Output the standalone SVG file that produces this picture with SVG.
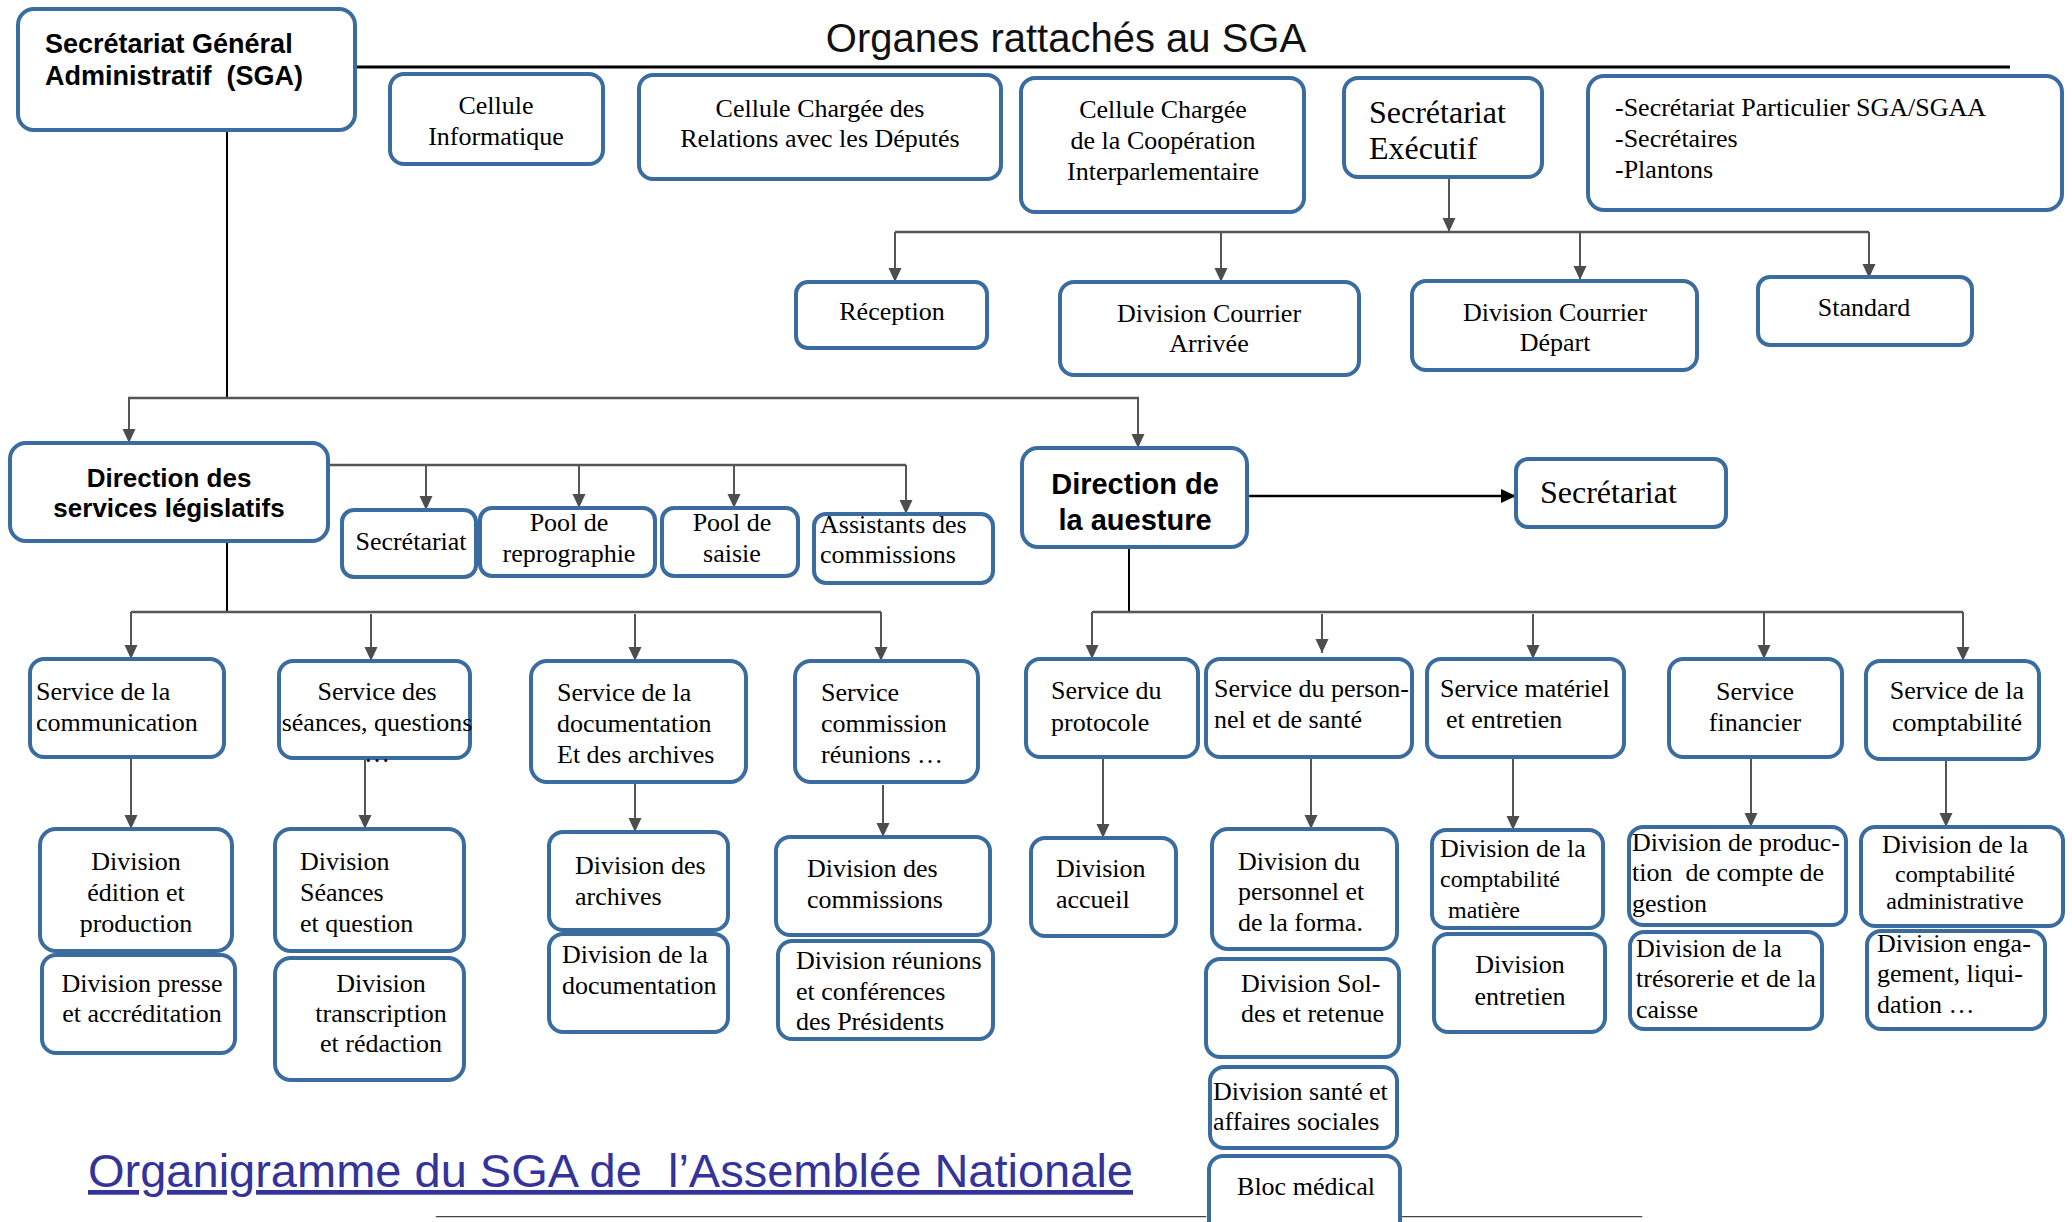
<svg xmlns="http://www.w3.org/2000/svg" width="2072" height="1222" viewBox="0 0 2072 1222">
<style>
.box{fill:#fff;stroke:#3B6C9F;stroke-width:4}
.t{font-family:"Liberation Serif","Times New Roman",serif;font-size:26px;fill:#000}
.s24{font-size:24px}
.s32{font-size:32px}
.b{font-family:"Liberation Sans",Arial,sans-serif;font-weight:bold;fill:#000}
.m{text-anchor:middle}
.ln{fill:none;stroke:#555;stroke-width:2.5}
.lk{fill:none;stroke:#000;stroke-width:2}
.ar{fill:none;stroke:#555;stroke-width:2;marker-end:url(#ah)}
.us{font-family:"Liberation Serif",serif;font-size:20px;fill:#444}
</style>
<defs>
<marker id="ah" markerUnits="userSpaceOnUse" markerWidth="14" markerHeight="14" refX="14" refY="6.5" orient="auto">
<path d="M0,0 L14,6.5 L0,13 z" fill="#4D4D4D"/>
</marker>
<marker id="akb" markerUnits="userSpaceOnUse" markerWidth="16" markerHeight="16" refX="15" refY="7" orient="auto">
<path d="M0,0 L15,7 L0,14 z" fill="#000"/>
</marker>
</defs>
<rect width="2072" height="1222" fill="#fff"/>

<text x="1066" y="52" class="m" style="font-family:'Liberation Sans',Arial,sans-serif;font-size:40px;fill:#111">Organes rattachés au SGA</text>

<g id="connectors">
<line x1="355" y1="67" x2="2010" y2="67" stroke="#000" stroke-width="3"/>
<line class="lk" x1="227" y1="130" x2="227" y2="398" stroke-width="1.8"/>
<line class="ln" x1="128" y1="398" x2="1139" y2="398"/>
<line class="ar" x1="129" y1="398" x2="129" y2="443"/>
<line class="ar" x1="1138" y1="398" x2="1138" y2="448"/>
<line class="ar" x1="1449" y1="177" x2="1449" y2="232"/>
<line class="ln" x1="895" y1="232" x2="1869" y2="232"/>
<line class="ar" x1="895" y1="232" x2="895" y2="282"/>
<line class="ar" x1="1221" y1="233" x2="1221" y2="282"/>
<line class="ar" x1="1580" y1="233" x2="1580" y2="280"/>
<line class="ar" x1="1869" y1="232" x2="1869" y2="278"/>
<line class="ln" x1="328" y1="465" x2="906" y2="465"/>
<line class="ar" x1="426" y1="465" x2="426" y2="510"/>
<line class="ar" x1="579" y1="465" x2="579" y2="508"/>
<line class="ar" x1="734" y1="465" x2="734" y2="508"/>
<line class="ar" x1="906" y1="465" x2="906" y2="514"/>
<line class="lk" x1="227" y1="541" x2="227" y2="612"/>
<line class="ln" x1="131" y1="612" x2="881" y2="612"/>
<line class="ar" x1="131" y1="612" x2="131" y2="659"/>
<line class="ar" x1="371" y1="614" x2="371" y2="661"/>
<line class="ar" x1="635" y1="614" x2="635" y2="661"/>
<line class="ar" x1="881" y1="612" x2="881" y2="661"/>
<line class="ar" x1="131" y1="757" x2="131" y2="829"/>
<line class="ar" x1="365" y1="758" x2="365" y2="829"/>
<line class="ar" x1="635" y1="782" x2="635" y2="832"/>
<line class="ar" x1="883" y1="785" x2="883" y2="837"/>
<line x1="1247" y1="496" x2="1516" y2="496" stroke="#000" stroke-width="2.5" marker-end="url(#akb)"/>
<line class="lk" x1="1129" y1="547" x2="1129" y2="612"/>
<line class="ln" x1="1092" y1="612" x2="1963" y2="612"/>
<line class="ar" x1="1092" y1="612" x2="1092" y2="659"/>
<line class="ar" x1="1322" y1="614" x2="1322" y2="653"/>
<line class="ar" x1="1533" y1="614" x2="1533" y2="659"/>
<line class="ar" x1="1764" y1="612" x2="1764" y2="659"/>
<line class="ar" x1="1963" y1="612" x2="1963" y2="661"/>
<line class="ar" x1="1103" y1="757" x2="1103" y2="838"/>
<line class="ar" x1="1311" y1="757" x2="1311" y2="829"/>
<line class="ar" x1="1513" y1="757" x2="1513" y2="830"/>
<line class="ar" x1="1751" y1="757" x2="1751" y2="827"/>
<line class="ar" x1="1946" y1="759" x2="1946" y2="827"/>
</g>

<text class="us" x="436" y="1214">_____________________________________________________________________________</text>
<text class="us" x="1402" y="1214">________________________</text>

<g id="sga"><rect class="box" x="18" y="9" width="337" height="121" rx="16"/>
<text class="b" x="45" y="53" style="font-size:27px">Secrétariat Général</text>
<text class="b" x="45" y="85" style="font-size:27px" xml:space="preserve">Administratif  (SGA)</text></g>

<g id="cellule-informatique"><rect class="box" x="390" y="74" width="213" height="90" rx="14"/>
<text class="t m" x="496" y="114">Cellule</text><text class="t m" x="496" y="145">Informatique</text></g>

<g id="cellule-deputes"><rect class="box" x="639" y="75" width="362" height="104" rx="14"/>
<text class="t m" x="820" y="117">Cellule Chargée des</text><text class="t m" x="820" y="147">Relations avec les Députés</text></g>

<g id="cellule-cooperation"><rect class="box" x="1021" y="78" width="283" height="134" rx="14"/>
<text class="t m" x="1163" y="118">Cellule Chargée</text><text class="t m" x="1163" y="149">de la Coopération</text><text class="t m" x="1163" y="180">Interparlementaire</text></g>

<g id="secretariat-executif"><rect class="box" x="1344" y="78" width="198" height="99" rx="14"/>
<text class="t s32" x="1369" y="123">Secrétariat</text><text class="t s32" x="1369" y="159">Exécutif</text></g>

<g id="secretariat-particulier"><rect class="box" x="1588" y="76" width="474" height="134" rx="16"/>
<text class="t" x="1615" y="116">-Secrétariat Particulier SGA/SGAA</text><text class="t" x="1615" y="147">-Secrétaires</text><text class="t" x="1615" y="178">-Plantons</text></g>

<g id="reception"><rect class="box" x="796" y="282" width="191" height="66" rx="12"/>
<text class="t m" x="892" y="320">Réception</text></g>

<g id="courrier-arrivee"><rect class="box" x="1060" y="282" width="299" height="93" rx="14"/>
<text class="t m" x="1209" y="322">Division Courrier</text><text class="t m" x="1209" y="352">Arrivée</text></g>

<g id="courrier-depart"><rect class="box" x="1412" y="281" width="285" height="89" rx="14"/>
<text class="t m" x="1555" y="321">Division Courrier</text><text class="t m" x="1555" y="351">Départ</text></g>

<g id="standard"><rect class="box" x="1758" y="277" width="214" height="68" rx="12"/>
<text class="t m" x="1864" y="316">Standard</text></g>

<g id="direction-services-legislatifs"><rect class="box" x="10" y="443" width="318" height="98" rx="16"/>
<text class="b m" x="169" y="487" style="font-size:26px">Direction des</text><text class="b m" x="169" y="517" style="font-size:26px">services législatifs</text></g>

<g id="dsl-secretariat"><rect class="box" x="342" y="510" width="134" height="67" rx="12"/>
<text class="t m" x="411" y="550">Secrétariat</text></g>

<g id="pool-reprographie"><rect class="box" x="480" y="508" width="175" height="68" rx="12"/>
<text class="t m" x="569" y="531">Pool de</text><text class="t m" x="569" y="562">reprographie</text></g>

<g id="pool-saisie"><rect class="box" x="662" y="508" width="136" height="68" rx="12"/>
<text class="t m" x="732" y="531">Pool de</text><text class="t m" x="732" y="562">saisie</text></g>

<g id="assistants-commissions"><rect class="box" x="814" y="514" width="179" height="69" rx="12"/>
<text class="t" x="820" y="533">Assistants des</text><text class="t" x="820" y="563">commissions</text></g>

<g id="direction-questure"><rect class="box" x="1022" y="448" width="225" height="99" rx="16"/>
<text class="b m" x="1135" y="494" style="font-size:29px">Direction de</text><text class="b m" x="1135" y="530" style="font-size:29px">la auesture</text></g>

<g id="dq-secretariat"><rect class="box" x="1516" y="459" width="210" height="68" rx="12"/>
<text class="t s32" x="1540" y="503">Secrétariat</text></g>

<g id="service-communication"><rect class="box" x="30" y="659" width="194" height="98" rx="14"/>
<text class="t" x="36" y="700">Service de la</text><text class="t" x="36" y="731">communication</text></g>

<g id="service-seances"><rect class="box" x="279" y="661" width="191" height="97" rx="14"/>
<text class="t m" x="377" y="700">Service des</text><text class="t m" x="377" y="731">séances, questions</text><text class="t m" x="377" y="762">…</text></g>

<g id="service-documentation"><rect class="box" x="531" y="661" width="215" height="121" rx="16"/>
<text class="t" x="557" y="701">Service de la</text><text class="t" x="557" y="732">documentation</text><text class="t" x="557" y="763">Et des archives</text></g>

<g id="service-commission"><rect class="box" x="795" y="661" width="183" height="121" rx="16"/>
<text class="t" x="821" y="701">Service</text><text class="t" x="821" y="732">commission</text><text class="t" x="821" y="763">réunions …</text></g>

<g id="service-protocole"><rect class="box" x="1026" y="659" width="172" height="98" rx="14"/>
<text class="t" x="1051" y="699">Service du</text><text class="t" x="1051" y="731">protocole</text></g>

<g id="service-personnel"><rect class="box" x="1206" y="659" width="206" height="98" rx="14"/>
<text class="t" x="1214" y="697">Service du person-</text><text class="t" x="1214" y="728">nel et de santé</text></g>

<g id="service-materiel"><rect class="box" x="1427" y="659" width="197" height="98" rx="14"/>
<text class="t" x="1440" y="697">Service matériel</text><text class="t" x="1446" y="728">et entretien</text></g>

<g id="service-financier"><rect class="box" x="1669" y="659" width="173" height="98" rx="14"/>
<text class="t m" x="1755" y="700">Service</text><text class="t m" x="1755" y="731">financier</text></g>

<g id="service-comptabilite"><rect class="box" x="1866" y="661" width="173" height="98" rx="14"/>
<text class="t m" x="1957" y="699">Service de la</text><text class="t m" x="1957" y="731">comptabilité</text></g>

<g id="div-edition"><rect class="box" x="40" y="829" width="192" height="122" rx="16"/>
<text class="t m" x="136" y="870">Division</text><text class="t m" x="136" y="901">édition et</text><text class="t m" x="136" y="932">production</text></g>

<g id="div-presse"><rect class="box" x="42" y="955" width="193" height="98" rx="14"/>
<text class="t m" x="142" y="992">Division presse</text><text class="t m" x="142" y="1022">et accréditation</text></g>

<g id="div-seances"><rect class="box" x="275" y="829" width="189" height="122" rx="16"/>
<text class="t" x="300" y="870">Division</text><text class="t" x="300" y="901">Séances</text><text class="t" x="300" y="932">et question</text></g>

<g id="div-transcription"><rect class="box" x="275" y="958" width="189" height="122" rx="16"/>
<text class="t m" x="381" y="992">Division</text><text class="t m" x="381" y="1022">transcription</text><text class="t m" x="381" y="1052">et rédaction</text></g>

<g id="div-archives"><rect class="box" x="549" y="832" width="179" height="98" rx="14"/>
<text class="t" x="575" y="874">Division des</text><text class="t" x="575" y="905">archives</text></g>

<g id="div-documentation"><rect class="box" x="549" y="934" width="179" height="98" rx="14"/>
<text class="t" x="562" y="963">Division de la</text><text class="t" x="562" y="994">documentation</text></g>

<g id="div-commissions"><rect class="box" x="776" y="837" width="214" height="98" rx="14"/>
<text class="t" x="807" y="877">Division des</text><text class="t" x="807" y="908">commissions</text></g>

<g id="div-reunions"><rect class="box" x="778" y="941" width="215" height="98" rx="14"/>
<text class="t" x="796" y="969">Division réunions</text><text class="t" x="796" y="1000">et conférences</text><text class="t" x="796" y="1030">des Présidents</text></g>

<g id="div-accueil"><rect class="box" x="1031" y="838" width="145" height="98" rx="14"/>
<text class="t" x="1056" y="877">Division</text><text class="t" x="1056" y="908">accueil</text></g>

<g id="div-personnel"><rect class="box" x="1212" y="829" width="185" height="120" rx="16"/>
<text class="t" x="1238" y="870">Division du</text><text class="t" x="1238" y="900">personnel et</text><text class="t" x="1238" y="931">de la forma.</text></g>

<g id="div-soldes"><rect class="box" x="1206" y="959" width="193" height="98" rx="14"/>
<text class="t" x="1241" y="992">Division Sol-</text><text class="t" x="1241" y="1022">des et retenue</text></g>

<g id="div-sante"><rect class="box" x="1210" y="1067" width="187" height="81" rx="14"/>
<text class="t" x="1213" y="1100">Division santé et</text><text class="t" x="1213" y="1130">affaires sociales</text></g>

<g id="bloc-medical"><rect class="box" x="1209" y="1156" width="191" height="90" rx="14"/>
<text class="t m" x="1306" y="1195">Bloc médical</text></g>

<g id="div-comptabilite-matiere"><rect class="box" x="1432" y="830" width="171" height="98" rx="14"/>
<text class="t" x="1440" y="857">Division de la</text><text class="t s24" x="1440" y="887">comptabilité</text><text class="t s24" x="1448" y="918">matière</text></g>

<g id="div-entretien"><rect class="box" x="1434" y="934" width="171" height="98" rx="14"/>
<text class="t m" x="1520" y="973">Division</text><text class="t m" x="1520" y="1005">entretien</text></g>

<g id="div-production"><rect class="box" x="1629" y="827" width="217" height="98" rx="14"/>
<text class="t" x="1632" y="851">Division de produc-</text><text class="t" x="1632" y="881" xml:space="preserve">tion  de compte de</text><text class="t" x="1632" y="912">gestion</text></g>

<g id="div-tresorerie"><rect class="box" x="1630" y="932" width="192" height="97" rx="14"/>
<text class="t" x="1636" y="957">Division de la</text><text class="t" x="1636" y="987">trésorerie et de la</text><text class="t" x="1636" y="1018">caisse</text></g>

<g id="div-comptabilite-admin"><rect class="box" x="1861" y="827" width="202" height="99" rx="14"/>
<text class="t m" x="1955" y="853">Division de la</text><text class="t s24 m" x="1955" y="882">comptabilité</text><text class="t s24 m" x="1955" y="909">administrative</text></g>

<g id="div-engagement"><rect class="box" x="1867" y="931" width="178" height="98" rx="14"/>
<text class="t" x="1877" y="952">Division enga-</text><text class="t" x="1877" y="982">gement, liqui-</text><text class="t" x="1877" y="1013">dation …</text></g>

<text x="88" y="1187" xml:space="preserve" style="font-family:'Liberation Sans',Arial,sans-serif;font-size:47px;fill:#333399;text-decoration:underline">Organigramme du SGA de  l’Assemblée Nationale</text>
</svg>
